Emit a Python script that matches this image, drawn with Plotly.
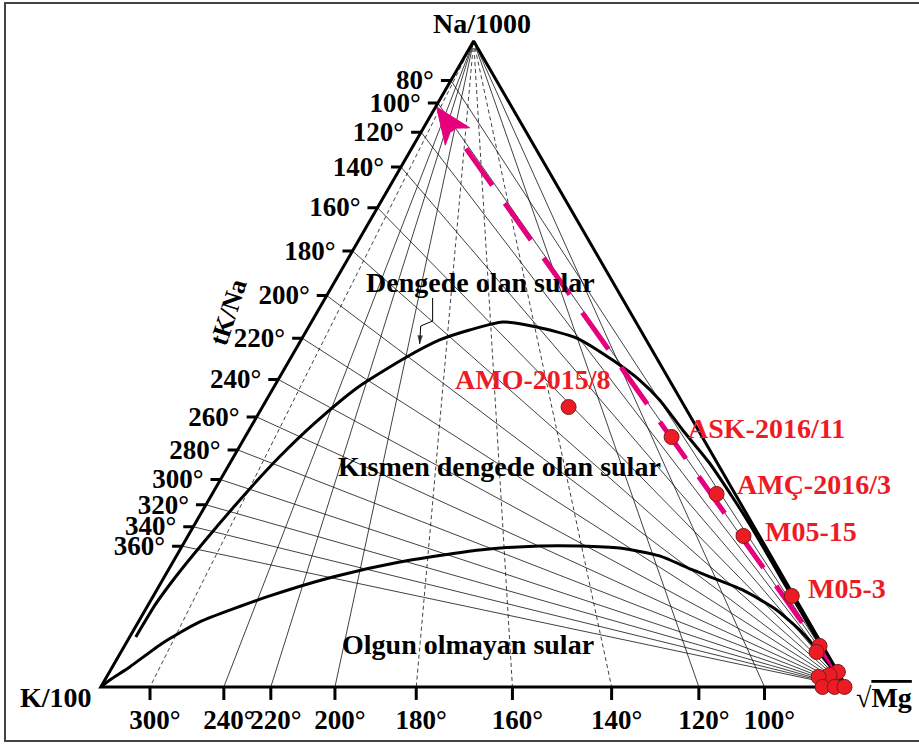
import math
import plotly.graph_objects as go

# ---------------- data (ternary values in %, a = Na/1000, b = K/100, c = sqrt(Mg)) ----------------
# tK/Na isotherms: temperature and Na/1000 share where each meets the K/100 - Na/1000 side
tkna_temp = [80, 100, 120, 140, 160, 180, 200, 220, 240, 260, 280, 300, 320, 340, 360]
tkna_na = [93.9, 90.4, 85.9, 80.5, 74.2, 67.5, 60.6, 54.0, 47.6, 41.8, 36.7, 32.1, 28.2, 24.8, 21.8]

# tK/Mg isotherms: temperature and K/100 share where each meets the K/100 - sqrt(Mg) side
tkmg_temp = [300, 240, 220, 200, 180, 160, 140, 120, 100]
tkmg_k = [93.4, 83.5, 77.2, 68.6, 57.7, 44.8, 31.5, 19.8, 11.0]

# full equilibrium curve
full_na = [7.74, 12.85, 16.87, 22.60, 30.50, 35.59, 40.95, 46.40, 51.08, 53.72, 55.26, 56.50, 55.73,
           54.02, 50.62, 47.52, 44.43, 39.78, 34.67, 29.41, 25.39, 21.21, 16.87, 11.92, 6.50, 1.70, 0.0]
full_k = [91.44, 86.20, 81.65, 74.76, 64.91, 58.27, 50.73, 42.31, 33.44, 27.70, 22.91, 17.86, 13.68,
          9.18, 6.06, 3.99, 2.85, 2.09, 1.05, 0.60, 0.40, 0.35, 0.35, 0.30, 0.25, 0.10, 0.0]
full_mg = [0.82, 0.95, 1.48, 2.64, 4.59, 6.14, 8.32, 11.29, 15.48, 18.58, 21.83, 25.64, 30.59,
           36.80, 43.32, 48.49, 52.72, 58.13, 64.28, 69.99, 74.21, 78.44, 82.78, 87.78, 93.25, 98.20, 100.0]

# immature waters boundary
imm_na = [0.0, 1.08, 3.10, 6.81, 10.06, 13.93, 17.03, 19.35, 21.21, 21.83, 21.83, 21.52, 20.28,
          18.11, 15.02, 11.92, 8.36, 4.95, 0.0]
imm_k = [100.0, 98.25, 94.56, 88.28, 81.70, 70.79, 60.38, 50.24, 38.59, 30.23, 24.87, 19.67, 14.93,
         11.59, 6.43, 3.42, 1.72, 0.88, 0.0]
imm_mg = [0.0, 0.67, 2.34, 4.91, 8.24, 15.28, 22.59, 30.41, 40.20, 47.94, 53.30, 58.81, 64.79,
          70.30, 78.55, 84.66, 89.92, 94.17, 100.0]

# water samples
sample_name = ["AMO-2015/8", "ASK-2016/11", "AMÇ-2016/3", "M05-15", "M05-3",
               "", "", "", "", "", "", "", ""]
sample_na = [43.34, 38.70, 29.88, 23.37, 14.09, 6.35, 5.42, 2.32, 1.86, 1.55, 0.0, 0.0, 0.0]
sample_k = [15.60, 4.11, 2.49, 2.13, 0.30, 0.44, 1.31, 0.0, 1.35, 2.97, 3.22, 1.60, 0.27]
sample_mg = [41.06, 57.19, 67.63, 74.50, 85.61, 93.21, 93.27, 97.68, 96.79, 95.48, 96.78, 98.40, 99.73]

# trend arrow (start near sqrt(Mg), tip near the 100 deg tK/Na point)
trend_na = [1.5, 89.78]
trend_k = [0.0, 10.07]
trend_mg = [98.5, 0.15]

# leader of the "Dengede olan sular" label
lead_na = [60.22, 56.66, 55.88, 53.10]
lead_k = [25.39, 27.17, 29.16, 30.69]
lead_mg = [14.39, 16.17, 14.96, 16.21]

# ---------------- styles / geometry ----------------
DASHED_TKMG = {300, 180, 160, 140}
FONT = "Liberation Serif"
FS = 28
FS_TICK = 27
RED = "#ED1C24"
PINK = "#E6007E"
PH = 646                                # diagram triangle height in px (100 units)
PWID = PH * 2 / 3 ** 0.5                # diagram triangle width in px
UPX = 100 / PH                          # a units per vertical px
UX = 2 * 100 / PWID                     # (c-b) units per horizontal px
# room around the diagram triangle (px, perpendicular) so that ticks/labels stay inside the subplot
SA, SB, SC = 26 * UPX, 3 * UPX, 18 * UPX
TSUM = 100 + SA + SB + SC
ML, MT, MR, MB = 65, 20, 54, 31
PLOT_W, PLOT_H = 919 - ML - MR, 744 - MT - MB

fig = go.Figure()


def shift(vals, s):
    return [None if v is None else v + s for v in vals]


def tern(a, b, c, **kw):
    fig.add_trace(go.Scatterternary(a=shift(a, SA), b=shift(b, SB), c=shift(c, SC),
                                    cliponaxis=False, hoverinfo="skip", showlegend=False, **kw))


def to_px(a, b, c):
    """position in px inside the diagram frame (x to the right, y downward)"""
    return (c + a / 2) * PWID / 100, -a / UPX


def offset(a, b, c, dx, dy):
    """move a ternary point by (dx, dy) px"""
    da = -dy * UPX
    dcb = dx * UX
    return a + da, b + (-dcb - da) / 2, c + (dcb - da) / 2


# tK/Na isotherms from the sqrt(Mg) corner
ga, gb, gc = [], [], []
for f in tkna_na:
    ga += [0, f, None]; gb += [0, 100 - f, None]; gc += [100, 0, None]
tern(ga, gb, gc, mode="lines", line=dict(color="#111111", width=0.8))

# tK/Mg isotherms from the Na corner
for dashed in (False, True):
    ga, gb, gc = [], [], []
    for t, k in zip(tkmg_temp, tkmg_k):
        if (t in DASHED_TKMG) == dashed:
            ga += [100, 0, None]; gb += [0, k, None]; gc += [0, 100 - k, None]
    tern(ga, gb, gc, mode="lines",
         line=dict(color="#111111", width=0.8, dash="4px,3px" if dashed else "solid"))

# curves
tern(full_na, full_k, full_mg, mode="lines",
     line=dict(color="black", width=3, shape="spline", smoothing=0.6))
tern(imm_na, imm_k, imm_mg, mode="lines",
     line=dict(color="black", width=3, shape="spline", smoothing=0.6))

# trend arrow: dashed shaft + notched head
p0 = (trend_na[0], trend_k[0], trend_mg[0])
p1 = (trend_na[1], trend_k[1], trend_mg[1])
x0, y0 = to_px(*p0)
x1, y1 = to_px(*p1)
ln = math.hypot(x1 - x0, y1 - y0)
ux, uy = (x1 - x0) / ln, (y1 - y0) / ln
nx, ny = -uy, ux
HL, HW, NOTCH = 36, 30, 26
back1 = offset(*p1, -HL * ux + HW / 2 * nx, -HL * uy + HW / 2 * ny)
back2 = offset(*p1, -HL * ux - HW / 2 * nx, -HL * uy - HW / 2 * ny)
notch = offset(*p1, -NOTCH * ux, -NOTCH * uy)
tern([p0[0], notch[0]], [p0[1], notch[1]], [p0[2], notch[2]], mode="lines",
     line=dict(color=PINK, width=5, dash="45px,22px"))
head = [p1, back1, notch, back2, p1]
tern([h[0] for h in head], [h[1] for h in head], [h[2] for h in head], mode="lines",
     fill="toself", fillcolor=PINK, line=dict(color=PINK, width=1))

# triangle outline
tern([0, 0, 100, 0, 0], [50, 0, 0, 100, 50], [50, 100, 0, 0, 50], mode="lines",
     line=dict(color="black", width=3))

# ticks on the left side (horizontal)
dl = 10 * UX / 2
ta, tb, tc = [], [], []
for f in tkna_na:
    ta += [f, f, None]; tb += [100 - f, 100 - f + dl, None]; tc += [0, -dl, None]
tern(ta, tb, tc, mode="lines", line=dict(color="black", width=3))
lab = [offset(f, 100 - f, 0, -17, 2) for f in tkna_na]
tern([p[0] for p in lab], [p[1] for p in lab], [p[2] for p in lab], mode="text",
     text=[f"{t}°" for t in tkna_temp], textposition="middle left",
     textfont=dict(family=FONT, size=FS_TICK, color="black", weight="bold"))

# ticks on the base (vertical)
dv = 13 * UPX
ta, tb, tc = [], [], []
for k in tkmg_k:
    ta += [0, -dv, None]; tb += [k, k + dv / 2, None]; tc += [100 - k, 100 - k + dv / 2, None]
tern(ta, tb, tc, mode="lines", line=dict(color="black", width=3))
lab = [offset(0, k, 100 - k, 5, 22) for k in tkmg_k]
tern([p[0] for p in lab], [p[1] for p in lab], [p[2] for p in lab],
     mode="text", text=[f"{t}°" for t in tkmg_temp], textposition="bottom center",
     textfont=dict(family=FONT, size=FS_TICK, color="black", weight="bold"))

# leader for "Dengede olan sular"
tern(lead_na, lead_k, lead_mg, mode="lines", line=dict(color="black", width=1))
tern(lead_na[-2:], lead_k[-2:], lead_mg[-2:], mode="markers",
     marker=dict(symbol="arrow", size=[0, 9], color="black", angleref="previous", line=dict(width=0)))

# samples
tern(sample_na, sample_k, sample_mg, mode="markers",
     marker=dict(size=15, color=RED, line=dict(color="#7A1A1A", width=1)))


# ---------------- text ----------------
def X(px):
    return (px - ML) / PLOT_W


def Y(py):
    return (MT + PLOT_H - py) / PLOT_H


annots = []


def note(text, x, y, size=FS, color="black", xanchor="center", angle=0):
    annots.append(dict(text=text, x=X(x), y=Y(y), xref="paper", yref="paper", showarrow=False,
                       xanchor=xanchor, yanchor="middle", textangle=angle,
                       font=dict(family=FONT, size=size, color=color, weight="bold")))


note("Na/1000", 482, 24)
note("K/100", 94, 697, xanchor="right")
note("√<span style='text-decoration:overline'>Mg</span>", 854, 697, xanchor="left")
note("tK/Na", 228, 312, size=26, angle=-72)
note("Dengede olan sular", 480, 283)
note("Kısmen dengede olan sular", 499, 466)
note("Olgun olmayan sular", 468, 644)

label_pos = [(533, 380, "center"), (686, 428, "left"), (735, 484, "left"),
             (763, 531, "left"), (806, 588, "left")]
for name, (lx, ly, anc) in zip(sample_name, label_pos):
    note(name, lx, ly, color=RED, xanchor=anc)

fig.update_layout(
    width=919, height=744,
    margin=dict(l=ML, r=MR, t=MT, b=MB, pad=0),
    paper_bgcolor="white",
    hovermode=False,
    showlegend=False,
    annotations=annots,
    shapes=[dict(type="rect", xref="paper", yref="paper", x0=X(5), x1=X(930), y0=Y(741), y1=Y(3),
                 line=dict(color="#444444", width=2))],
    ternary=dict(
        sum=TSUM,
        bgcolor="white",
        domain=dict(x=[0, 1], y=[0, 1]),
        aaxis=dict(showline=False, showgrid=False, showticklabels=False, ticks="", title=dict(text="")),
        baxis=dict(showline=False, showgrid=False, showticklabels=False, ticks="", title=dict(text="")),
        caxis=dict(showline=False, showgrid=False, showticklabels=False, ticks="", title=dict(text="")),
    ),
)

fig.write_html("out.html", config={"displayModeBar": False},
               post_script="document.body.style.margin='0';")
